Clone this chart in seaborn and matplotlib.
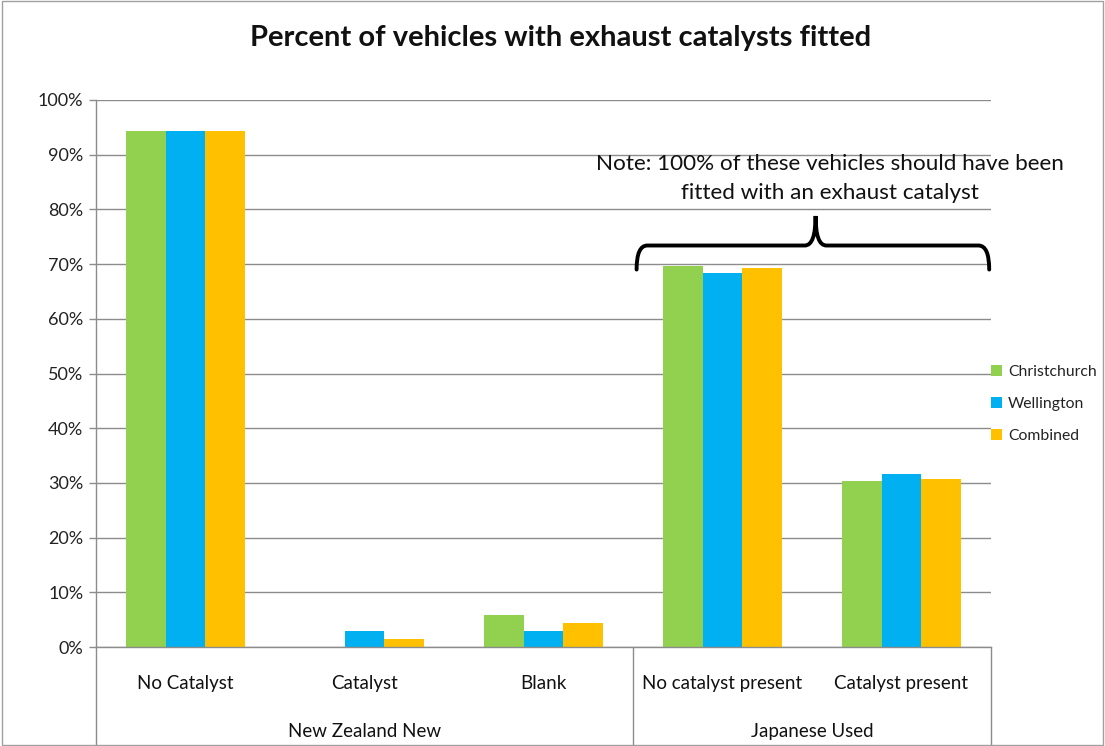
import matplotlib
matplotlib.use("Agg")
import matplotlib.pyplot as plt
from matplotlib.path import Path
from matplotlib.patches import PathPatch, Rectangle
import seaborn as sns
import pandas as pd

categories = ["No Catalyst", "Catalyst", "Blank", "No catalyst present", "Catalyst present"]
groups = ["New Zealand New", "Japanese Used"]
series = ["Christchurch", "Wellington", "Combined"]
christchurch = [94.4, 0.0, 5.8, 69.7, 30.3]
wellington = [94.4, 2.9, 2.9, 68.4, 31.7]
combined = [94.4, 1.5, 4.3, 69.3, 30.8]
colors = ["#92D050", "#00B0F0", "#FFC000"]
title = "Percent of vehicles with exhaust catalysts fitted"
note = "Note: 100% of these vehicles should have been\nfitted with an exhaust catalyst"

rows = []
for name, vals in zip(series, [christchurch, wellington, combined]):
    for c, v in zip(categories, vals):
        rows.append({"cat": c, "series": name, "val": v})
df = pd.DataFrame(rows)

sns.set_theme(style="white")
plt.rcParams["font.family"] = ["Lato", "DejaVu Sans"]

fig = plt.figure(figsize=(11.05, 7.46), dpi=100)
ax = fig.add_axes([96/1105, 1-647/746, (991-96)/1105, (647-100)/746])

sns.barplot(data=df, x="cat", y="val", hue="series", order=categories,
            hue_order=series, palette=dict(zip(series, colors)),
            width=0.67, gap=0, linewidth=0, saturation=1, ax=ax)

ax.set_ylim(0, 100)
ax.set_xlim(-0.5, 4.5)
ax.set_yticks(range(0, 101, 10))
ax.set_yticklabels([f"{v}%" for v in range(0, 101, 10)], fontsize=13, color="#222222")
ax.yaxis.grid(True, color="#8c8c8c", linewidth=1)
ax.set_axisbelow(True)
ax.set_xlabel("")
ax.set_ylabel("")
ax.tick_params(axis="x", length=0, pad=20, labelsize=13.5, labelcolor="#111111")
ax.tick_params(axis="y", length=5, width=1, color="#8c8c8c", left=True, pad=4)
for s in ["top", "right"]:
    ax.spines[s].set_visible(False)
for s in ["left", "bottom"]:
    ax.spines[s].set_color("#8c8c8c")
    ax.spines[s].set_linewidth(1)

# two-level axis separators
trans = ax.get_xaxis_transform()
for xs in [-0.5, 2.5, 4.5]:
    ax.plot([xs, xs], [0, -0.185], transform=trans, color="#8c8c8c", lw=1, clip_on=False)
ax.text(1.0, -0.155, groups[0], transform=trans, ha="center", va="center", fontsize=13.5, color="#111111")
ax.text(3.5, -0.155, groups[1], transform=trans, ha="center", va="center", fontsize=13.5, color="#111111")

# title
fig.text(561/1105, 1-38/746, title, ha="center", va="center", fontsize=21, fontweight="bold", color="#111111")

# curly brace annotation
x0, x1, xm = 2.52, 4.49, 3.52
ytop, yend, ytip = 73.4, 69.0, 78.8
dx = 0.06
verts = [
    (x0, yend), (x0, ytop), (x0 + dx, ytop),
    (xm - dx, ytop),
    (xm, ytop), (xm, ytip),
    (xm, ytop), (xm + dx, ytop),
    (x1 - dx, ytop),
    (x1, ytop), (x1, yend),
]
codes = [Path.MOVETO, Path.CURVE3, Path.CURVE3, Path.LINETO,
         Path.CURVE3, Path.CURVE3, Path.CURVE3, Path.CURVE3,
         Path.LINETO, Path.CURVE3, Path.CURVE3]
ax.add_patch(PathPatch(Path(verts, codes), facecolor="none", edgecolor="black", lw=2.8, clip_on=False, capstyle="round"))
ax.text(3.6, 85.6, note, ha="center", va="center", fontsize=16.2, color="#111111", linespacing=1.55)

# legend
leg = ax.legend(loc="center left", bbox_to_anchor=(985/1105, 1-404/746), bbox_transform=fig.transFigure,
                frameon=False, fontsize=11.3, handlelength=0.7, handleheight=0.7, handletextpad=0.35,
                labelspacing=1.15, borderaxespad=0)
for t in leg.get_texts():
    t.set_color("#222222")

# figure border
fig.patches.append(Rectangle((0.002, 0.002), 0.996, 0.996, transform=fig.transFigure,
                             fill=False, edgecolor="#a0a0a0", lw=1))

fig.savefig("out.png", dpi=100)
